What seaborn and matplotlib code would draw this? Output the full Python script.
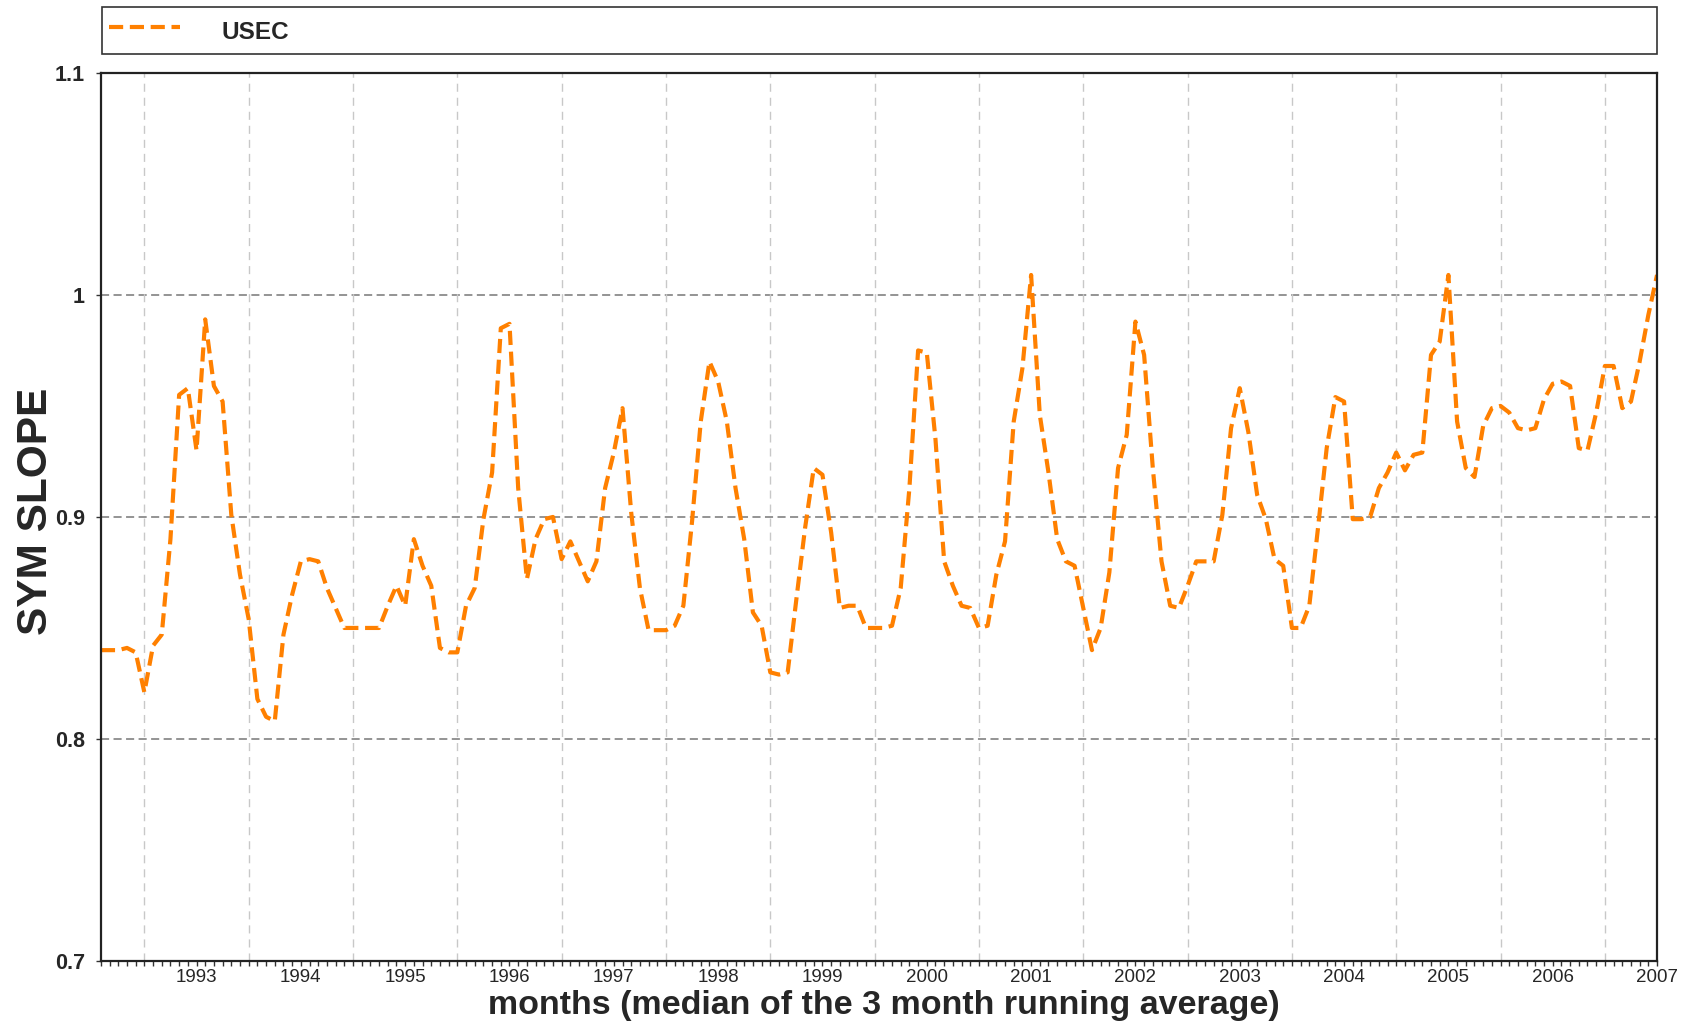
import numpy as np
import pandas as pd
import matplotlib
matplotlib.use("Agg")
import matplotlib.pyplot as plt
import seaborn as sns
from matplotlib.ticker import FixedLocator, FixedFormatter, MultipleLocator

# ---------------- data ----------------
series_name = "USEC"
start_year = 1992 + 7 / 12          # first monthly value (Aug 1992)
usec_values = [
    0.840, 0.840, 0.840, 0.841, 0.839, 0.821, 0.842, 0.847, 0.890, 0.955,
    0.958, 0.930, 0.989, 0.959, 0.952, 0.901, 0.874, 0.854, 0.818, 0.810,
    0.808, 0.847, 0.865, 0.880, 0.881, 0.880, 0.868, 0.859, 0.850, 0.850,
    0.850, 0.850, 0.850, 0.860, 0.869, 0.860, 0.890, 0.878, 0.869, 0.841,
    0.839, 0.839, 0.860, 0.868, 0.899, 0.920, 0.985, 0.987, 0.913, 0.872,
    0.890, 0.899, 0.900, 0.881, 0.889, 0.880, 0.871, 0.880, 0.913, 0.929,
    0.949, 0.902, 0.868, 0.849, 0.849, 0.849, 0.851, 0.860, 0.898, 0.943,
    0.970, 0.961, 0.943, 0.913, 0.890, 0.857, 0.851, 0.830, 0.829, 0.830,
    0.863, 0.895, 0.922, 0.919, 0.893, 0.859, 0.860, 0.860, 0.850, 0.850,
    0.850, 0.851, 0.868, 0.913, 0.975, 0.974, 0.935, 0.880, 0.869, 0.860,
    0.859, 0.850, 0.851, 0.874, 0.889, 0.943, 0.967, 1.009, 0.946, 0.920,
    0.890, 0.880, 0.878, 0.859, 0.840, 0.850, 0.875, 0.922, 0.937, 0.988,
    0.973, 0.922, 0.880, 0.860, 0.859, 0.869, 0.880, 0.880, 0.880, 0.901,
    0.940, 0.958, 0.938, 0.910, 0.899, 0.881, 0.878, 0.850, 0.850, 0.860,
    0.895, 0.931, 0.954, 0.952, 0.899, 0.899, 0.900, 0.913, 0.920, 0.929,
    0.921, 0.928, 0.929, 0.973, 0.979, 1.009, 0.943, 0.922, 0.918, 0.941,
    0.949, 0.950, 0.947, 0.940, 0.939, 0.940, 0.953, 0.960, 0.961, 0.959,
    0.931, 0.930, 0.947, 0.968, 0.968, 0.949, 0.952, 0.970, 0.991, 1.009,
]
year_labels = [str(y) for y in range(1993, 2008)]
year_boundaries = list(range(1993, 2008))
y_ticks = [0.7, 0.8, 0.9, 1.0, 1.1]
y_tick_labels = ["0.7", "0.8", "0.9", "1", "1.1"]
x_label = "months (median of the 3 month running average)"
y_label = "SYM SLOPE"

# ---------------- style ----------------
sns.set_theme(style="white")
plt.rcParams["font.family"] = ["Liberation Sans", "DejaVu Sans"]

t = start_year + np.arange(len(usec_values)) / 12
df = pd.DataFrame({"t": t, series_name: usec_values})

fig = plt.figure(figsize=(16.9, 10.26), dpi=100)
fig.patch.set_facecolor("white")
ax = fig.add_axes([0.0597, 0.0634, 0.9208, 0.8655])
ax.set_facecolor("white")

sns.lineplot(data=df, x="t", y=series_name, ax=ax, color="#ff8000",
             linewidth=3.0, legend=False)
line = ax.lines[0]
line.set_dashes([3.4, 1.6])
line.set_dash_capstyle("butt")
line.set_solid_joinstyle("round")
line.set_dash_joinstyle("round")
line.set_zorder(5)

ax.set_xlim(t[0], t[-1])
ax.set_ylim(0.7, 1.1)

# vertical light grey dashed lines at year boundaries
for yb in year_boundaries:
    ax.axvline(yb, color="#c8c8c8", linewidth=1.0, linestyle=(0, (5.8, 4.3)), zorder=1)

# y ticks & grid
ax.yaxis.set_major_locator(FixedLocator(y_ticks))
ax.yaxis.set_major_formatter(FixedFormatter(y_tick_labels))
ax.grid(axis="y", color="#777777", linewidth=1.1, linestyle=(0, (5.3, 2.9)), zorder=1)
ax.grid(axis="x", visible=False)
ax.set_axisbelow(True)

# x ticks: year labels at mid-year, monthly minor ticks
ax.xaxis.set_major_locator(FixedLocator([y + 0.5 for y in range(1993, 2008)]))
ax.xaxis.set_major_formatter(FixedFormatter(year_labels))
ax.xaxis.set_minor_locator(MultipleLocator(1 / 12))
ax.tick_params(axis="x", which="both", direction="out", length=3.5, width=1.0,
               color="#333333", bottom=True, labelsize=13.5, pad=2.5)
ax.tick_params(axis="y", which="major", direction="out", length=3.5, width=1.0,
               color="#333333", left=True, labelsize=15.5, pad=8)
for lab in ax.get_yticklabels():
    lab.set_fontweight("bold")

for side in ["left", "right", "top", "bottom"]:
    ax.spines[side].set_visible(True)
    ax.spines[side].set_color("#222222")
    ax.spines[side].set_linewidth(1.6)
    ax.spines[side].set_zorder(6)

ax.set_xlabel(x_label, fontsize=24.5, fontweight="bold")
ax.set_ylabel(y_label, fontsize=30.5, fontweight="bold")
ax.xaxis.set_label_coords(0.503, -0.0505)
ax.xaxis.label.set_va("center")
ax.yaxis.set_label_coords(-0.042, 0.506)
ax.yaxis.label.set_va("center")

leg = ax.legend(handles=[line], labels=[series_name], loc="lower left",
                bbox_to_anchor=(0.0007, 1.0214, 0.999, 0.054), mode="expand",
                borderaxespad=0, frameon=True, fancybox=False, framealpha=1,
                edgecolor="#333333", handlelength=2.9, handletextpad=1.7,
                handleheight=1.65, borderpad=0.3,
                prop={"weight": "bold", "size": 17.5})
leg.get_frame().set_linewidth(1.2)

fig.savefig("out.png", dpi=100, facecolor="white")
